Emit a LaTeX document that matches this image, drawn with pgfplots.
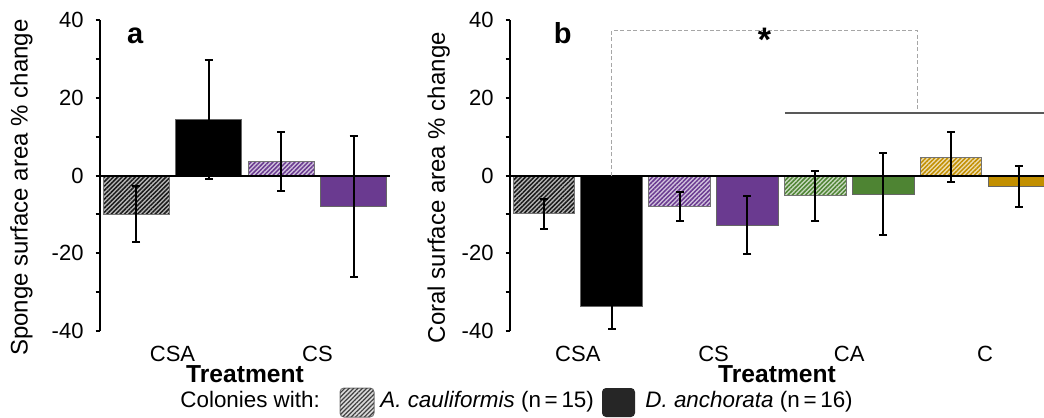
\documentclass[border=0pt]{standalone}
\usepackage{fontspec}
\setmainfont{Liberation Sans}
\usepackage{pgfplots}
\pgfplotsset{compat=1.18}
\usetikzlibrary{patterns.meta}

\definecolor{cpurple}{RGB}{106,58,144}
\definecolor{cgreen}{RGB}{78,132,51}
\definecolor{cgold}{RGB}{194,143,0}

\pgfplotsset{
  panel/.style={
    scale only axis, height=155.5pt,
    ymin=-40, ymax=40,
    ytick={-40,-20,0,20,40}, minor ytick={-30,-10,10,30},
    axis y line*=left, axis x line*=bottom,
    x axis line style={draw=none},
    y axis line style={line width=1pt},
    tick style={line width=1pt, black},
    xtick style={draw=none},
    tick align=outside,
    major tick length=2.2pt, minor tick length=2.2pt,
    /pgf/number format/assume math mode=true,
    yticklabel style={font=\fontsize{11}{13}\selectfont, xshift=-2.5pt},
    xticklabel style={font=\fontsize{11}{13}\selectfont, anchor=base, yshift=-13pt},
    label style={font=\fontsize{12}{14}\selectfont},
    xlabel style={font=\bfseries\fontsize{12.3}{14}\selectfont, anchor=base, at={(axis description cs:0.5,-0.167)}},
  },
  bars/.style={ybar, bar width=0.91, bar shift=0pt, line width=0.5pt,
    error bars/y dir=both, error bars/y explicit,
    error bars/error bar style={line width=1pt, black},
    error bars/error mark options={rotate=90, mark size=2pt, line width=1pt, black}},
  hatchbar/.style 2 args={bars, draw=black!55, fill=#2,
    postaction={pattern={Lines[angle=45,distance=1.55pt,line width=0.75pt]}, pattern color=#1}},
  solidbar/.style={bars, draw=black!60, fill=#1},
}

\begin{document}
\begin{tikzpicture}
% fixes the picture to the reference's frame
\path (-50pt,-43pt) rectangle (472pt,165.5pt);

\begin{axis}[panel, name=A, at={(0,0)}, anchor=south west,
  width=145pt, xmin=0.5, xmax=4.5,
  xtick={1.5,3.5}, xticklabels={CSA,CS},
  xlabel={Treatment},
  ylabel={Sponge surface area \% change},
  ylabel style={at={(axis description cs:-0.231,0.461)}, anchor=south, inner sep=0pt},
]
\addplot[hatchbar={black!90}{black!28}] coordinates {(1,-10.0) +- (0,7.2)};
\addplot[solidbar=black] coordinates {(2,14.4) +- (0,15.2)};
\addplot[hatchbar={cpurple}{cpurple!30}] coordinates {(3,3.6) +- (0,7.7)};
\addplot[solidbar=cpurple] coordinates {(4,-7.9) +- (0,18.1)};
\draw[black, line width=1pt] (axis cs:0.5,0) -- (axis cs:4.5,0);
\node[anchor=base west, font=\bfseries\fontsize{14.5}{15}\selectfont] at (axis description cs:0.069,0.925) {a};
\end{axis}

\begin{axis}[panel, name=B, at={(205pt,0)}, anchor=south west,
  width=267pt, xmin=0.5, xmax=8.37,
  xtick={1.5,3.5,5.5,7.5}, xticklabels={CSA,CS,CA,C},
  xlabel={Treatment},
  ylabel={Coral surface area \% change},
  ylabel style={at={(axis description cs:-0.112,0.461)}, anchor=south, inner sep=0pt},
]
\addplot[hatchbar={black!90}{black!28}] coordinates {(1,-9.9) +- (0,3.9)};
\addplot[solidbar=black] coordinates {(2,-33.8) +- (0,5.8)};
\addplot[hatchbar={cpurple}{cpurple!30}] coordinates {(3,-7.9) +- (0,3.7)};
\addplot[solidbar=cpurple] coordinates {(4,-12.8) +- (0,7.5)};
\addplot[hatchbar={cgreen}{cgreen!30}] coordinates {(5,-5.2) +- (0,6.4)};
\addplot[solidbar=cgreen] coordinates {(6,-4.8) +- (0,10.6)};
\addplot[hatchbar={cgold}{cgold!30}] coordinates {(7,4.7) +- (0,6.4)};
\addplot[solidbar=cgold] coordinates {(8,-2.8) +- (0,5.2)};
\draw[black, line width=1pt] (axis cs:0.5,0) -- (axis cs:8.37,0);
\draw[black!35, line width=0.6pt, dash pattern=on 2pt off 1.2pt]
  (axis cs:2,0) -- (axis cs:2,37.3) -- (axis cs:6.5,37.3) -- (axis cs:6.5,17.1);
\draw[black!65, line width=0.9pt] (axis cs:4.55,16) -- (axis cs:8.37,16);
\node[anchor=base, inner sep=0pt, font=\bfseries\fontsize{17}{17}\selectfont] at (axis cs:4.25,31.8) {*};
\node[anchor=base west, font=\bfseries\fontsize{14.5}{15}\selectfont] at (axis description cs:0.069,0.923) {b};
\end{axis}

% legend row
\begin{scope}[font=\fontsize{11.2}{13}\selectfont]
\node[anchor=base west, inner sep=0pt] at (40pt,-38pt) {Colonies with:};
\draw[black!55, line width=0.5pt, rounded corners=2pt, fill=black!15,
  postaction={pattern={Lines[angle=45,distance=1.55pt,line width=0.6pt]}, pattern color=black!75}]
  (120pt,-43pt) rectangle (137pt,-28.5pt);
\node[anchor=base west, inner sep=0pt] at (140pt,-38pt) {\textit{A. cauliformis} (n\,=\,15)};
\fill[black!85, rounded corners=2pt] (251pt,-43pt) rectangle (267.5pt,-28.5pt);
\node[anchor=base west, inner sep=0pt] at (272.5pt,-38pt) {\textit{D. anchorata} (n\,=\,16)};
\end{scope}
\end{tikzpicture}
\end{document}
